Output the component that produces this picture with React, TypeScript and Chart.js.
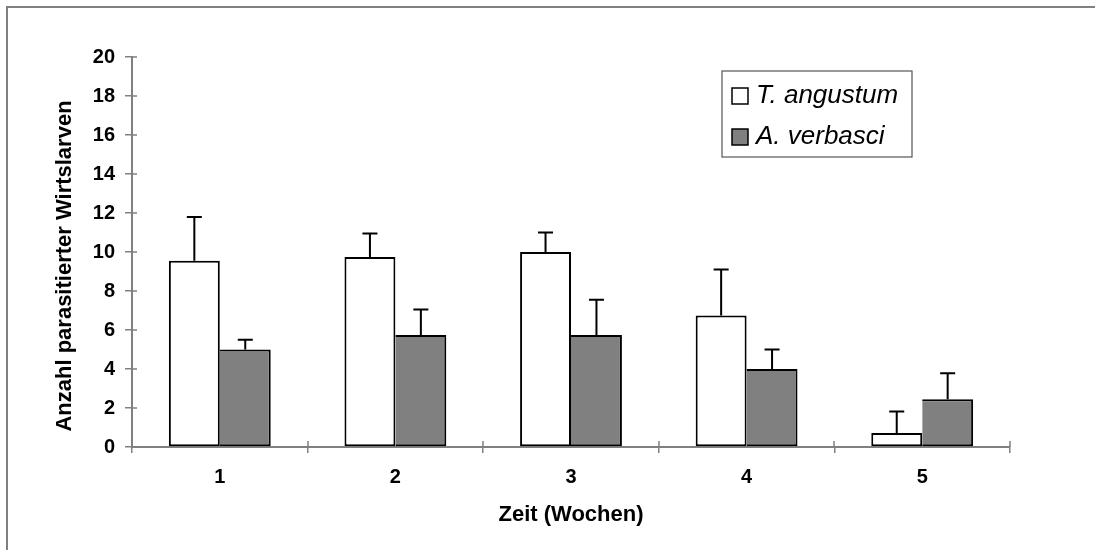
import React, { useEffect, useRef } from 'react';
import { Chart, registerables } from 'chart.js';

Chart.register(...registerables);

const categories = ['1', '2', '3', '4', '5'];
const seriesNames = ['T. angustum', 'A. verbasci'];
const tAngustum = [9.55, 9.75, 10.0, 6.75, 0.72];
const aVerbasci = [5.0, 5.75, 5.75, 4.0, 2.45];
const tAngustumErr = [2.25, 1.2, 1.0, 2.35, 1.1];
const aVerbasciErr = [0.5, 1.3, 1.8, 1.0, 1.33];
const yMin = 0;
const yMax = 20;
const yStep = 2;
const xTitle = 'Zeit (Wochen)';
const yTitle = 'Anzahl parasitierter Wirtslarven';

const FONT = "'Liberation Sans', Arial, sans-serif";
const AXIS_GRAY = '#808080';

const errors = [tAngustumErr, aVerbasciErr];
const fills = ['#ffffff', '#808080'];

const framePlugin = {
  id: 'frame',
  beforeDraw(chart: any) {
    const ctx = chart.ctx;
    ctx.save();
    ctx.fillStyle = '#ffffff';
    ctx.fillRect(0, 0, chart.width, chart.height);
    ctx.strokeStyle = AXIS_GRAY;
    ctx.lineWidth = 2;
    ctx.beginPath();
    ctx.moveTo(7, chart.height + 5);
    ctx.lineTo(7, 7);
    ctx.lineTo(chart.width + 5, 7);
    ctx.stroke();
    ctx.restore();
  },
};

const errorBarPlugin = {
  id: 'errorBars',
  afterDatasetsDraw(chart: any) {
    const ctx = chart.ctx;
    const yScale = chart.scales.y;
    ctx.save();
    ctx.strokeStyle = '#000000';
    ctx.lineWidth = 2;
    chart.data.datasets.forEach((ds: any, i: number) => {
      const meta = chart.getDatasetMeta(i);
      meta.data.forEach((bar: any, j: number) => {
        const v = ds.data[j];
        const top = yScale.getPixelForValue(v + errors[i][j]);
        const base = yScale.getPixelForValue(v);
        ctx.beginPath();
        ctx.moveTo(bar.x, base);
        ctx.lineTo(bar.x, top);
        ctx.moveTo(bar.x - 7.5, top);
        ctx.lineTo(bar.x + 7.5, top);
        ctx.stroke();
      });
    });
    ctx.restore();
  },
};

const crossTickPlugin = {
  id: 'crossTicks',
  afterDraw(chart: any) {
    const ctx = chart.ctx;
    const xs = chart.scales.x;
    const ys = chart.scales.y;
    ctx.save();
    ctx.strokeStyle = AXIS_GRAY;
    ctx.lineWidth = 1.5;
    ctx.beginPath();
    ys.ticks.forEach((t: any) => {
      const y = Math.round(ys.getPixelForValue(t.value));
      ctx.moveTo(ys.right, y);
      ctx.lineTo(ys.right + 5, y);
    });
    for (let i = 0; i <= categories.length; i++) {
      const x = Math.round(xs.getPixelForValue(i - 0.5));
      ctx.moveTo(x, xs.top);
      ctx.lineTo(x, xs.top - 6);
    }
    ctx.stroke();

    // y axis title
    ctx.fillStyle = '#000000';
    ctx.font = `bold 22px ${FONT}`;
    ctx.textAlign = 'center';
    ctx.textBaseline = 'alphabetic';
    ctx.translate(71, 266);
    ctx.rotate(-Math.PI / 2);
    ctx.fillText(yTitle, 0, 0);
    ctx.restore();

    // legend
    ctx.save();
    ctx.strokeStyle = '#555555';
    ctx.lineWidth = 1.2;
    ctx.strokeRect(722, 71, 190, 86);
    ctx.font = `italic 26px ${FONT}`;
    ctx.textAlign = 'left';
    ctx.textBaseline = 'alphabetic';
    seriesNames.forEach((name, i) => {
      const rowY = 88 + i * 41;
      ctx.fillStyle = fills[i];
      ctx.fillRect(732, rowY, 16, 16);
      ctx.strokeStyle = '#000000';
      ctx.lineWidth = 1.5;
      ctx.strokeRect(732, rowY, 16, 16);
      ctx.fillStyle = '#000000';
      ctx.fillText(name, 756, 103 + i * 41);
    });
    ctx.restore();
  },
};

export default function App() {
  const canvasRef = useRef<HTMLCanvasElement | null>(null);

  useEffect(() => {
    const canvas = canvasRef.current;
    if (!canvas) return;
    const chart = new Chart(canvas, {
      type: 'bar',
      data: {
        labels: categories,
        datasets: [
          {
            label: seriesNames[0],
            data: tAngustum,
            backgroundColor: fills[0],
            borderColor: '#000000',
            borderWidth: 2,
            borderSkipped: false,
            inflateAmount: 0,
            categoryPercentage: 0.58,
            barPercentage: 1,
          },
          {
            label: seriesNames[1],
            data: aVerbasci,
            backgroundColor: fills[1],
            borderColor: '#000000',
            borderWidth: { left: 0, top: 2, right: 2, bottom: 2 },
            borderSkipped: false,
            inflateAmount: 0,
            categoryPercentage: 0.58,
            barPercentage: 1,
          },
        ],
      },
      options: {
        animation: false,
        responsive: false,
        maintainAspectRatio: false,
        layout: { padding: { left: 0, top: 57, right: 85, bottom: 0 } },
        plugins: {
          legend: { display: false },
          tooltip: { enabled: false },
        },
        scales: {
          x: {
            grid: {
              offset: true,
              drawOnChartArea: false,
              drawTicks: true,
              tickLength: 6,
              color: AXIS_GRAY,
              lineWidth: 1.5,
            },
            border: { display: true, color: AXIS_GRAY, width: 2 },
            ticks: {
              color: '#000000',
              font: { family: FONT, size: 20, weight: 'bold' },
              padding: 12,
              maxRotation: 0,
            },
            title: {
              display: true,
              text: xTitle,
              color: '#000000',
              font: { family: FONT, size: 22, weight: 'bold' },
              padding: { top: 0, bottom: 22 },
            },
            afterFit(scale: any) {
              scale.height = 103;
            },
          },
          y: {
            min: yMin,
            max: yMax,
            grid: {
              drawOnChartArea: false,
              drawTicks: true,
              tickLength: 7,
              color: AXIS_GRAY,
              lineWidth: 1.5,
            },
            border: { display: true, color: AXIS_GRAY, width: 2 },
            ticks: {
              stepSize: yStep,
              color: '#000000',
              font: { family: FONT, size: 20, weight: 'bold' },
              padding: 10,
            },
            afterFit(scale: any) {
              scale.width = 132;
            },
          },
        },
      },
      plugins: [framePlugin, errorBarPlugin, crossTickPlugin],
    } as any);
    return () => chart.destroy();
  }, []);

  return (
    <div style={{ position: 'fixed', left: 0, top: 0, width: 1095, height: 550, background: '#fff' }}>
      <canvas ref={canvasRef} width={1095} height={550} style={{ display: 'block', width: 1095, height: 550 }} />
    </div>
  );
}
